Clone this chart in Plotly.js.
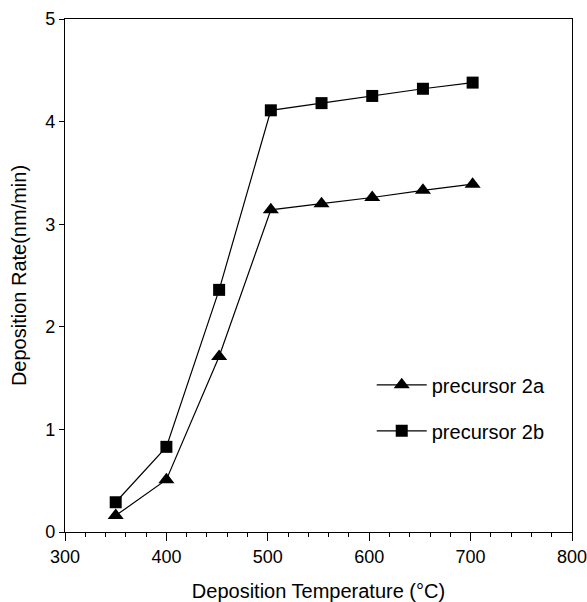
<!DOCTYPE html>
<html><head><meta charset="utf-8">
<script src="https://cdn.plot.ly/plotly-3.0.1.min.js"></script>
<style>html,body{margin:0;padding:0;background:#fff}</style>
</head><body>
<div id="chart" style="width:587px;height:602px"></div>
<script>
const temps = [350, 400, 452, 503, 553, 603, 653, 702];
const rate2a = [0.16, 0.51, 1.71, 3.14, 3.2, 3.26, 3.33, 3.39];
const rate2b = [0.29, 0.83, 2.36, 4.11, 4.18, 4.25, 4.32, 4.38];
const xTicks = [300, 400, 500, 600, 700, 800];
const yTicks = [0, 1, 2, 3, 4, 5];

const fam = 'Arial, "Liberation Sans", sans-serif';
const traces = [
  {x: temps, y: rate2a, name: 'precursor 2a', mode: 'lines+markers', legendgroup: 'a',
   line: {color: '#000', width: 1.2}, marker: {symbol: 'triangle-up', size: 14, color: '#000'}},
  {x: temps, y: rate2b, name: 'precursor 2b', mode: 'lines+markers', legendgroup: 'b',
   line: {color: '#000', width: 1.2}, marker: {symbol: 'square', size: 12, color: '#000'}}
];
const layout = {
  width: 587, height: 602,
  margin: {l: 65, r: 15, t: 19, b: 70},
  paper_bgcolor: '#fff', plot_bgcolor: '#fff',
  font: {family: fam, size: 18, color: '#000'},
  showlegend: true,
  legend: {x: 0.605, y: 0.325, xanchor: 'left', yanchor: 'top', bgcolor: 'rgba(0,0,0,0)',
           font: {family: fam, size: 20, color: '#000'}, traceorder: 'grouped', tracegroupgap: 17,
           itemwidth: 50},
  xaxis: {
    range: [300, 800], tickvals: xTicks, ticktext: xTicks.map(String),
    ticks: 'outside', ticklen: 8, tickwidth: 1, tickcolor: '#000',
    minor: {dtick: 20, ticks: 'outside', ticklen: 4, tickcolor: '#000', showgrid: false},
    showline: true, linecolor: '#000', linewidth: 1.2, mirror: true,
    showgrid: false, zeroline: false, ticklabeloverflow: 'allow',
    tickfont: {family: fam, size: 18, color: '#000'},
    title: {text: 'Deposition Temperature (°C)', standoff: 19,
            font: {family: fam, size: 20, color: '#000'}}
  },
  yaxis: {
    range: [0, 5], tickvals: yTicks, ticktext: yTicks.map(String),
    ticks: 'outside', ticklen: 5, tickwidth: 1, tickcolor: '#000',
    showline: true, linecolor: '#000', linewidth: 1.2, mirror: true,
    showgrid: false, zeroline: false, ticklabeloverflow: 'allow',
    tickfont: {family: fam, size: 18, color: '#000'},
    title: {text: 'Deposition Rate(nm/min)', standoff: 13,
            font: {family: fam, size: 20, color: '#000'}}
  }
};
Plotly.newPlot('chart', traces, layout, {displayModeBar: false, staticPlot: true});
</script>
</body></html>
